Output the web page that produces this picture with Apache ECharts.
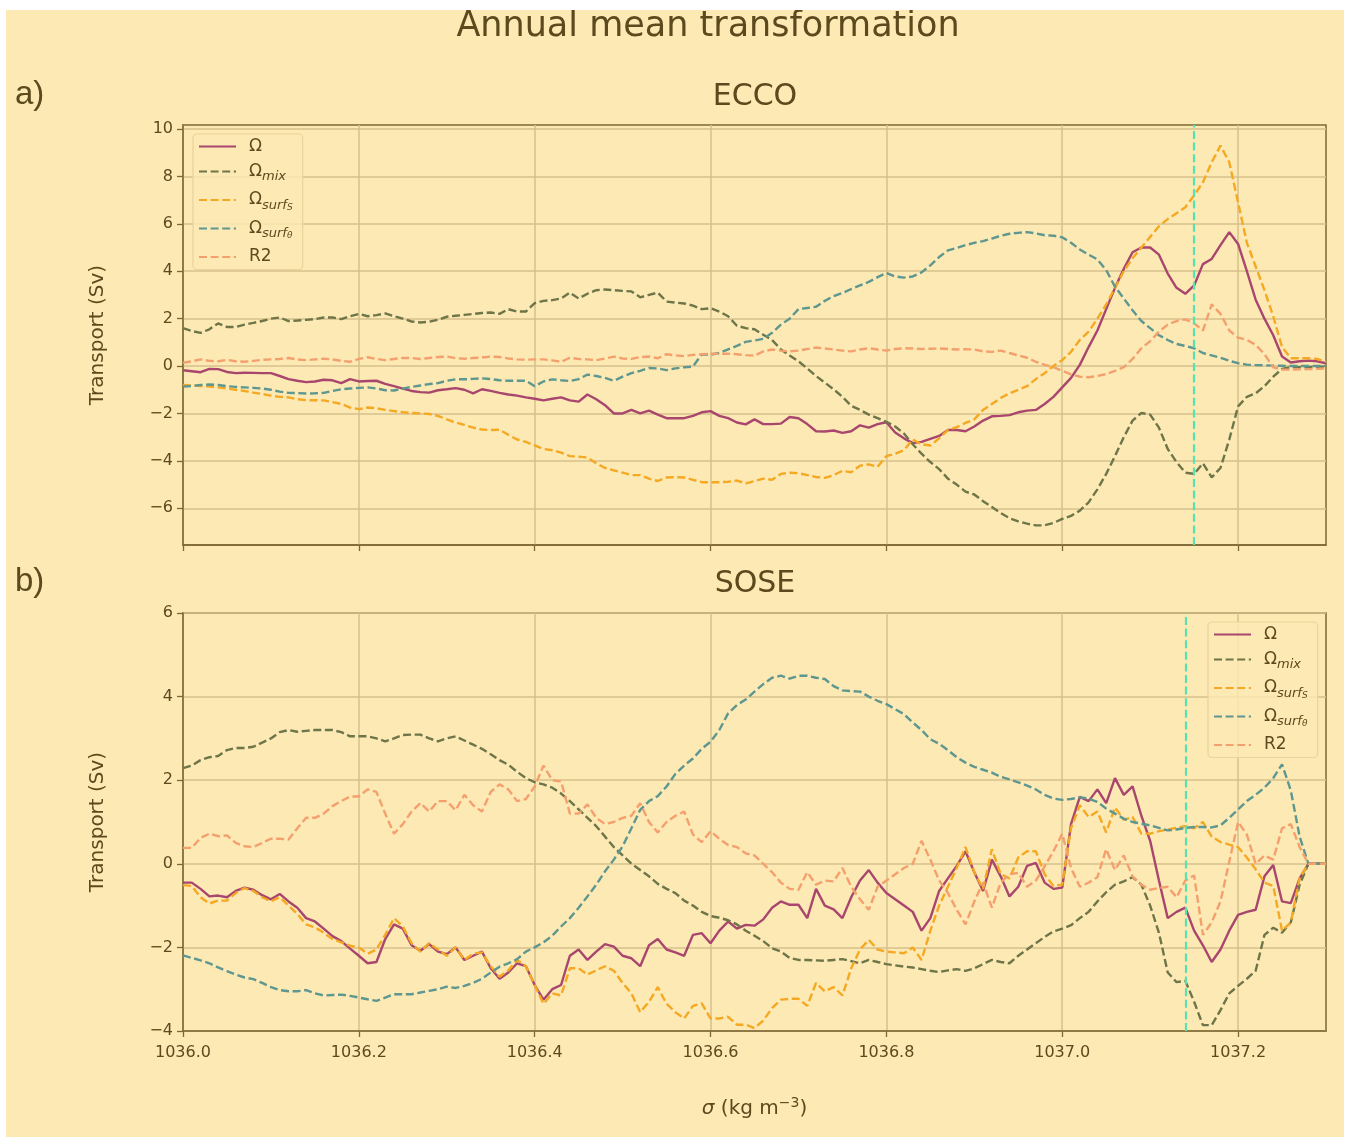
<!DOCTYPE html>
<html>
<head>
<meta charset="utf-8">
<title>Annual mean transformation</title>
<script src="https://cdn.jsdelivr.net/npm/echarts@6/dist/echarts.min.js"></script>
<style>
  html, body { margin: 0; padding: 0; background: #ffffff; }
  #chart {
    position: absolute;
    left: 6px;
    top: 10px;
    width: 1338px;
    height: 1127px;
    background: #fde9b4;
  }
</style>
</head>
<body>
<div id="chart"></div>
<script>
// density grid, 0.01 kg m-3 steps from 1036.00 to 1037.30
const sigma = []
for (let i = 0; i <= 130; i++) sigma.push(+(1036 + i * 0.01).toFixed(2))

const seriesNames = ['Ω', 'Ωmix', 'Ωsurfs', 'Ωsurfθ', 'R2']
const xTicks = [1036.0, 1036.2, 1036.4, 1036.6, 1036.8, 1037.0, 1037.2]
const eccoYTicks = [-6, -4, -2, 0, 2, 4, 6, 8, 10]
const soseYTicks = [-4, -2, 0, 2, 4, 6]

// density of the dashed marker line in each panel
const eccoMarker = 1037.154
const soseMarker = 1037.143

// ECCO (panel a)
const eccoOmega = [
  -0.18, -0.22, -0.26, -0.12, -0.13, -0.25, -0.3, -0.28, -0.29, -0.3,
  -0.3, -0.42, -0.55, -0.62, -0.68, -0.65, -0.58, -0.6, -0.72, -0.55,
  -0.65, -0.63, -0.62, -0.75, -0.85, -0.95, -1.05, -1.1, -1.12, -1.02,
  -0.98, -0.93, -1.0, -1.15, -0.98, -1.05, -1.13, -1.2, -1.25, -1.32,
  -1.38, -1.45, -1.38, -1.32, -1.45, -1.5, -1.2, -1.4, -1.65, -2.0,
  -2.0, -1.85, -2.0, -1.88, -2.05, -2.2, -2.2, -2.2, -2.1, -1.95,
  -1.9, -2.1, -2.2, -2.38, -2.46, -2.25, -2.45, -2.45, -2.43, -2.15,
  -2.2, -2.45, -2.75, -2.76, -2.72, -2.82, -2.75, -2.5, -2.6, -2.45,
  -2.37, -2.8, -3.05, -3.25, -3.2, -3.07, -2.95, -2.7, -2.7, -2.75,
  -2.55, -2.3, -2.12, -2.1, -2.07, -1.95, -1.88, -1.85, -1.6, -1.3,
  -0.9, -0.5, 0.05, 0.8, 1.5, 2.4, 3.3, 4.1, 4.8, 5.0,
  5.0, 4.7, 3.9, 3.3, 3.05, 3.4, 4.3, 4.52, 5.1, 5.65,
  5.15, 4.0, 2.8, 2.0, 1.3, 0.4, 0.15, 0.2, 0.23, 0.2, 0.12
]
const eccoMix = [
  1.6, 1.48, 1.4, 1.55, 1.8, 1.65, 1.65, 1.75, 1.82, 1.9,
  2.0, 2.05, 1.9, 1.92, 1.95, 1.98, 2.05, 2.05, 1.98, 2.1,
  2.2, 2.1, 2.15, 2.22, 2.1, 2.0, 1.88, 1.84, 1.87, 1.95,
  2.08, 2.12, 2.16, 2.2, 2.24, 2.26, 2.2, 2.4, 2.3, 2.3,
  2.65, 2.75, 2.78, 2.85, 3.1, 2.85, 3.05, 3.2, 3.23, 3.2,
  3.17, 3.15, 2.9, 3.0, 3.1, 2.72, 2.68, 2.64, 2.55, 2.4,
  2.44, 2.3, 2.1, 1.7, 1.6, 1.55, 1.32, 1.1, 0.7, 0.45,
  0.2, -0.1, -0.42, -0.7, -0.98, -1.3, -1.68, -1.85, -2.05, -2.2,
  -2.35, -2.55, -2.85, -3.3, -3.7, -4.05, -4.35, -4.75, -5.0, -5.3,
  -5.42, -5.7, -5.95, -6.2, -6.42, -6.55, -6.65, -6.72, -6.72, -6.62,
  -6.45, -6.32, -6.1, -5.75, -5.2, -4.55, -3.8, -3.0, -2.3, -1.98,
  -2.05, -2.6, -3.5, -4.05, -4.5, -4.55, -4.1, -4.7, -4.3, -3.1,
  -1.7, -1.3, -1.15, -0.85, -0.45, -0.12, -0.05, -0.05, -0.05, -0.03, -0.02
]
const eccoSurfS = [
  -0.8, -0.82, -0.84, -0.87, -0.9, -0.95, -1.0, -1.05, -1.12, -1.18,
  -1.25, -1.3, -1.32, -1.4, -1.44, -1.44, -1.45, -1.52, -1.6, -1.75,
  -1.82, -1.75, -1.78, -1.85, -1.9, -1.95, -1.98, -2.0, -2.02, -2.1,
  -2.25, -2.38, -2.48, -2.6, -2.68, -2.7, -2.69, -2.9, -3.1, -3.2,
  -3.35, -3.5, -3.55, -3.65, -3.8, -3.82, -3.86, -4.1, -4.3, -4.4,
  -4.5, -4.6, -4.6, -4.75, -4.85, -4.7, -4.69, -4.7, -4.8, -4.9,
  -4.9, -4.9, -4.88, -4.83, -4.95, -4.85, -4.75, -4.8, -4.55, -4.5,
  -4.52, -4.6, -4.68, -4.72, -4.6, -4.42, -4.48, -4.2, -4.15, -4.25,
  -3.8, -3.7, -3.55, -3.1, -3.3, -3.35, -3.05, -2.7, -2.58, -2.4,
  -2.25, -1.85, -1.6, -1.35, -1.15, -1.0, -0.85, -0.55, -0.3, 0.0,
  0.25, 0.6, 1.1, 1.45, 2.0, 2.6, 3.3, 4.0, 4.55, 5.0,
  5.45, 5.9, 6.2, 6.45, 6.7, 7.2, 7.75, 8.6, 9.3, 8.6,
  6.9, 5.2, 4.2, 3.2, 2.1, 0.8, 0.33, 0.33, 0.33, 0.3, 0.18
]
const eccoSurfT = [
  -0.87, -0.84, -0.8, -0.78, -0.8, -0.85, -0.88, -0.9, -0.92, -0.95,
  -1.0, -1.08, -1.13, -1.14, -1.16, -1.15, -1.13, -1.05, -0.98, -0.95,
  -0.92, -0.9, -0.95, -1.02, -1.03, -0.95, -0.88, -0.82, -0.76, -0.72,
  -0.62, -0.56, -0.56, -0.54, -0.52, -0.55, -0.6, -0.62, -0.62, -0.62,
  -0.85, -0.65, -0.56, -0.6, -0.63, -0.55, -0.36, -0.42, -0.5, -0.62,
  -0.45, -0.3, -0.2, -0.08, -0.1, -0.17, -0.1, -0.05, -0.02, 0.5,
  0.48, 0.55, 0.7, 0.85, 1.02, 1.08, 1.15, 1.4, 1.75, 2.0,
  2.4, 2.45, 2.5, 2.75, 2.95, 3.08, 3.25, 3.4, 3.55, 3.75,
  3.93, 3.78, 3.73, 3.78, 3.95, 4.25, 4.6, 4.88, 4.98, 5.1,
  5.2, 5.27, 5.38, 5.5, 5.58, 5.62, 5.65, 5.6, 5.52, 5.5,
  5.43, 5.2, 4.92, 4.7, 4.5, 4.05, 3.35, 2.85, 2.35, 1.9,
  1.6, 1.3, 1.1, 0.93, 0.85, 0.75, 0.55, 0.45, 0.35, 0.22,
  0.12, 0.06, 0.04, 0.03, 0.02, 0.01, 0.0, 0.0, 0.0, 0.0, 0.0
]
const eccoR2 = [
  0.14, 0.2, 0.28, 0.22, 0.2, 0.26, 0.2, 0.18, 0.22, 0.26,
  0.28, 0.3, 0.34, 0.28, 0.25, 0.28, 0.31, 0.28, 0.22, 0.18,
  0.3, 0.37, 0.3, 0.25, 0.3, 0.34, 0.34, 0.3, 0.34, 0.38,
  0.4, 0.33, 0.31, 0.34, 0.36, 0.4, 0.38, 0.32, 0.28, 0.27,
  0.28, 0.28, 0.24, 0.18, 0.35, 0.3, 0.28, 0.25, 0.32, 0.4,
  0.32, 0.3, 0.38, 0.4, 0.33, 0.5, 0.45, 0.42, 0.47, 0.5,
  0.52, 0.52, 0.52, 0.5, 0.46, 0.44, 0.62, 0.7, 0.65, 0.62,
  0.65, 0.72, 0.78, 0.74, 0.7, 0.65, 0.62, 0.7, 0.75, 0.7,
  0.65, 0.72, 0.75, 0.74, 0.72, 0.73, 0.74, 0.72, 0.7, 0.71,
  0.7, 0.62, 0.6, 0.65, 0.55, 0.45, 0.35, 0.18, 0.05, -0.05,
  -0.2, -0.35, -0.45, -0.47, -0.42, -0.34, -0.2, -0.05, 0.3, 0.75,
  1.05, 1.45, 1.75, 1.9, 1.97, 1.8, 1.5, 2.6, 2.2, 1.5,
  1.2, 1.1, 0.9, 0.5, -0.05, -0.15, -0.15, -0.14, -0.13, -0.12, -0.1
]

// SOSE (panel b)
const soseOmega = [
  -0.45, -0.45, -0.6, -0.78, -0.76, -0.8, -0.65, -0.57, -0.62, -0.75,
  -0.85, -0.72, -0.9, -1.05, -1.3, -1.38, -1.55, -1.73, -1.85, -2.03,
  -2.2, -2.38, -2.35, -1.8, -1.45, -1.55, -1.95, -2.08, -1.92, -2.1,
  -2.16, -2.0, -2.3, -2.2, -2.1, -2.5, -2.75, -2.6, -2.38, -2.45,
  -2.9, -3.25, -3.0, -2.9, -2.2, -2.05, -2.3, -2.1, -1.92, -1.98,
  -2.2, -2.26, -2.45, -1.95, -1.8, -2.05, -2.12, -2.2, -1.7, -1.66,
  -1.9, -1.6, -1.38, -1.55, -1.46, -1.48, -1.33, -1.05, -0.9, -0.98,
  -0.98, -1.3, -0.6, -1.0, -1.09, -1.3, -0.8, -0.4, -0.15, -0.45,
  -0.7, -0.85, -1.0, -1.15, -1.6, -1.3, -0.65, -0.35, -0.05, 0.3,
  -0.2, -0.65, 0.1, -0.3, -0.78, -0.55, -0.05, 0.02, -0.45, -0.6,
  -0.57, 0.95, 1.6, 1.5, 1.78, 1.45, 2.05, 1.65, 1.85, 1.15,
  0.55, -0.4, -1.3, -1.15, -1.05, -1.6, -1.95, -2.35, -2.05, -1.6,
  -1.22, -1.15, -1.1, -0.3, -0.03, -0.9, -0.94, -0.35, 0.0, 0.0, 0.0
]
const soseMix = [
  2.29, 2.35, 2.48, 2.55, 2.58, 2.72, 2.77, 2.77, 2.8, 2.9,
  3.0, 3.15, 3.2, 3.16, 3.18, 3.2, 3.2, 3.2, 3.15, 3.05,
  3.05, 3.05, 3.0, 2.93, 3.0, 3.08, 3.09, 3.09, 3.0, 2.93,
  3.0, 3.05, 2.95, 2.85, 2.75, 2.62, 2.48, 2.37, 2.2, 2.05,
  1.95, 1.9, 1.82, 1.68, 1.5, 1.3, 1.1, 0.9, 0.65, 0.4,
  0.2, 0.0, -0.15, -0.3, -0.48, -0.6, -0.7, -0.88, -1.0, -1.15,
  -1.25, -1.29, -1.35, -1.45, -1.6, -1.72, -1.85, -2.02, -2.1, -2.25,
  -2.3, -2.3, -2.31, -2.32, -2.3, -2.28, -2.33, -2.38, -2.3, -2.35,
  -2.4, -2.43, -2.46, -2.48, -2.52, -2.56, -2.59, -2.55, -2.52, -2.56,
  -2.5, -2.4, -2.3, -2.35, -2.38, -2.2, -2.05, -1.9, -1.75, -1.62,
  -1.55, -1.47, -1.3, -1.15, -0.9, -0.68, -0.5, -0.42, -0.32, -0.5,
  -1.0, -1.65, -2.6, -2.83, -2.8, -3.3, -3.86, -3.86, -3.5, -3.1,
  -2.92, -2.75, -2.56, -1.7, -1.53, -1.65, -1.4, -0.5, 0.0, 0.0, 0.0
]
const soseSurfS = [
  -0.51, -0.53, -0.8, -0.95, -0.88, -0.88, -0.7, -0.58, -0.65, -0.8,
  -0.9, -0.8, -1.0, -1.2, -1.45, -1.52, -1.65, -1.8, -1.88, -1.96,
  -2.0, -2.15, -2.05, -1.7, -1.3, -1.5, -1.9, -2.1, -1.9, -2.05,
  -2.2, -2.0, -2.3, -2.15, -2.12, -2.45, -2.7, -2.55, -2.3, -2.45,
  -2.9, -3.35, -3.1, -3.15, -2.5, -2.5, -2.65, -2.55, -2.45, -2.56,
  -2.85, -3.1, -3.55, -3.3, -2.95, -3.35, -3.55, -3.7, -3.4, -3.34,
  -3.7, -3.7, -3.66, -3.85, -3.85, -3.93, -3.75, -3.45, -3.25, -3.23,
  -3.23, -3.4, -2.85, -3.05, -2.95, -3.15, -2.5, -2.05, -1.82, -2.05,
  -2.1, -2.12, -2.14, -2.0, -2.3, -1.6, -1.0, -0.55, -0.1, 0.4,
  -0.2, -0.6, 0.35, -0.25, -0.35, 0.15, 0.3, 0.3, -0.25, -0.53,
  -0.5, 0.85, 1.4, 1.12, 1.25, 0.75, 1.35, 1.05, 1.12, 0.72,
  0.72, 0.78, 0.82, 0.86, 0.9, 0.85, 1.0, 0.65, 0.52, 0.46,
  0.4, 0.15, -0.13, -0.45, -0.53, -1.6, -1.4, -0.35, 0.0, 0.0, 0.0
]
const soseSurfT = [
  -2.19, -2.25, -2.31, -2.38, -2.48, -2.57, -2.65, -2.72, -2.76, -2.85,
  -2.95, -3.02, -3.05, -3.05, -3.02, -3.1, -3.15, -3.14, -3.13, -3.16,
  -3.2, -3.24, -3.28, -3.2, -3.12, -3.12, -3.12, -3.08, -3.04, -3.0,
  -2.94, -2.97, -2.92, -2.85, -2.75, -2.6, -2.46, -2.38, -2.28, -2.1,
  -2.0, -1.88, -1.72, -1.5, -1.3, -1.05, -0.78, -0.5, -0.18, 0.1,
  0.42, 0.85, 1.29, 1.5, 1.62, 1.85, 2.15, 2.35, 2.52, 2.75,
  2.92, 3.2, 3.6, 3.8, 3.93, 4.12, 4.3, 4.45, 4.5, 4.43,
  4.5, 4.5, 4.45, 4.42, 4.25, 4.15, 4.13, 4.12, 4.0, 3.9,
  3.82, 3.7, 3.58, 3.38, 3.2, 2.98, 2.87, 2.72, 2.55, 2.42,
  2.32, 2.25, 2.18, 2.08, 2.02, 1.95, 1.87, 1.78, 1.65, 1.56,
  1.53, 1.55, 1.59, 1.56, 1.48, 1.32, 1.2, 1.08, 1.0, 0.96,
  0.92, 0.86, 0.8, 0.82, 0.86, 0.88, 0.88, 0.87, 0.92, 1.1,
  1.3, 1.5, 1.65, 1.82, 2.05, 2.38, 1.75, 0.65, 0.0, 0.0, 0.0
]
const soseR2 = [
  0.38, 0.38, 0.62, 0.72, 0.66, 0.68, 0.5, 0.42, 0.4, 0.5,
  0.6, 0.6, 0.58, 0.85, 1.1, 1.1, 1.2, 1.38, 1.5, 1.61,
  1.61, 1.78, 1.72, 1.2, 0.72, 0.95, 1.25, 1.45, 1.25, 1.5,
  1.5, 1.28, 1.65, 1.4, 1.25, 1.72, 1.9, 1.78, 1.5, 1.55,
  1.85, 2.35, 2.0, 1.97, 1.2, 1.2, 1.42, 1.1, 0.95, 1.0,
  1.1, 1.15, 1.45, 1.0, 0.75, 1.0, 1.15, 1.25, 0.7, 0.52,
  0.78, 0.6, 0.45, 0.4, 0.25, 0.2, 0.0, -0.2, -0.45, -0.6,
  -0.62, -0.2, -0.5, -0.4, -0.42, -0.1, -0.55, -0.85, -1.1, -0.55,
  -0.4, -0.25, -0.1, 0.0, 0.55, 0.1, -0.4, -0.7, -1.1, -1.45,
  -0.9, -0.45, -1.05, -0.45, -0.25, -0.22, -0.55, -0.4, -0.06, 0.3,
  0.72, -0.1, -0.55, -0.45, -0.32, 0.35, -0.15, 0.2, -0.3, -0.5,
  -0.62, -0.58, -0.55, -0.8, -0.4, -0.28, -1.7, -1.4, -0.9, 0.05,
  1.0, 0.7, 0.0, 0.2, 0.1, 0.85, 0.95, 0.4, 0.0, 0.0, 0.0
]

const textColor = '#5c4a1e'
const frameColor = '#7d6733'
const gridColor = '#d6bf8b'
const markerColor = '#56e3b3'
const lineColors = ['#a8466d', '#6d7549', '#f5a822', '#5e9690', '#f4a06e']
const dash = [8, 3.6]

const legendRich = {
  m: { fontSize: 17, lineHeight: 24, color: textColor, fontFamily: 'DejaVu Sans' },
  s: { fontSize: 13, lineHeight: 14, verticalAlign: 'bottom', fontStyle: 'italic', color: textColor, fontFamily: 'DejaVu Sans' },
  ss: { fontSize: 9, lineHeight: 10, verticalAlign: 'bottom', fontStyle: 'italic', color: textColor, fontFamily: 'DejaVu Sans' }
}
const legendText = {
  'Ω': '{m|Ω}',
  'Ωmix': '{m|Ω}{s|mix}',
  'Ωsurfs': '{m|Ω}{s|surf}{ss|S}',
  'Ωsurfθ': '{m|Ω}{s|surf}{ss|θ}',
  'R2': '{m|R2}'
}

const minus = v => String(v).replace('-', '−')

function pairs(vals) {
  return vals.map((v, i) => [sigma[i], v])
}

function makeLegend(left, top) {
  return {
    orient: 'vertical',
    left: left,
    top: top,
    data: seriesNames,
    selectedMode: false,
    itemWidth: 37,
    itemHeight: 14,
    itemGap: 8,
    padding: [4, 10, 4, 5],
    backgroundColor: 'rgba(253,233,180,0.8)',
    borderColor: '#ead39c',
    borderWidth: 1.2,
    borderRadius: 4,
    itemStyle: { opacity: 0 },
    formatter: name => legendText[name],
    textStyle: { color: textColor, padding: [0, 0, 0, 8], rich: legendRich }
  }
}

function makeY(gridIndex, min, max, ticks) {
  return {
    type: 'value',
    gridIndex: gridIndex,
    min: min,
    max: max,
    name: 'Transport (Sv)',
    nameLocation: 'middle',
    nameGap: 75,
    nameTextStyle: { color: textColor, fontSize: 20, fontFamily: 'DejaVu Sans' },
    axisLine: { show: true, onZero: false, lineStyle: { color: frameColor, width: 1.5 } },
    axisTick: { show: true, length: 6, customValues: ticks, lineStyle: { color: frameColor, width: 1.3 } },
    axisLabel: {
      customValues: ticks,
      margin: 10,
      color: textColor,
      fontSize: 16,
      fontFamily: 'DejaVu Sans',
      formatter: v => minus(v)
    },
    splitLine: { show: true, lineStyle: { color: gridColor, width: 1.5 } }
  }
}

function makeX(gridIndex, showLabels) {
  return {
    type: 'value',
    gridIndex: gridIndex,
    min: 1036.0,
    max: 1037.3,
    name: showLabels ? '{i|σ}{t| (kg m}{sup|−3}{t|)}' : '',
    nameLocation: 'middle',
    nameGap: 65,
    nameTextStyle: {
      color: textColor,
      rich: {
        i: { fontSize: 20, lineHeight: 26, fontStyle: 'italic', color: textColor, fontFamily: 'DejaVu Sans' },
        t: { fontSize: 20, lineHeight: 26, color: textColor, fontFamily: 'DejaVu Sans' },
        sup: { fontSize: 14, lineHeight: 14, verticalAlign: 'top', color: textColor, fontFamily: 'DejaVu Sans' }
      }
    },
    axisLine: { show: true, onZero: false, lineStyle: { color: frameColor, width: 1.5 } },
    axisTick: { show: true, length: 6, customValues: xTicks, lineStyle: { color: frameColor, width: 1.3 } },
    axisLabel: {
      show: showLabels,
      customValues: xTicks,
      margin: 14,
      color: textColor,
      fontSize: 16,
      fontFamily: 'DejaVu Sans',
      formatter: v => v.toFixed(1)
    },
    splitLine: { show: true, lineStyle: { color: gridColor, width: 1.5 } }
  }
}

function makeSeries(axisIndex, panel, marker) {
  return panel.map((vals, k) => {
    const s = {
      name: seriesNames[k],
      type: 'line',
      xAxisIndex: axisIndex,
      yAxisIndex: axisIndex,
      data: pairs(vals),
      symbol: 'none',
      silent: true,
      lineStyle: { color: lineColors[k], width: 2.4, type: k === 0 ? 'solid' : dash },
      itemStyle: { color: lineColors[k] }
    }
    if (k === 0) {
      s.markLine = {
        silent: true,
        symbol: ['none', 'none'],
        label: { show: false },
        lineStyle: { color: markerColor, width: 2.2, type: dash },
        data: [{ xAxis: marker }]
      }
    }
    return s
  })
}

const chart = echarts.init(document.getElementById('chart'), null, { renderer: 'canvas' })

const option = {
  animation: false,
  backgroundColor: '#fde9b4',
  textStyle: { fontFamily: 'DejaVu Sans' },
  graphic: [
    { type: 'text', x: 702, y: 34, style: { text: 'Annual mean transformation', fill: textColor, font: '35px "DejaVu Sans"', textAlign: 'center', textVerticalAlign: 'bottom' } },
    { type: 'text', x: 749, y: 102, style: { text: 'ECCO', fill: textColor, font: '30px "DejaVu Sans"', textAlign: 'center', textVerticalAlign: 'bottom' } },
    { type: 'text', x: 749, y: 589, style: { text: 'SOSE', fill: textColor, font: '30px "DejaVu Sans"', textAlign: 'center', textVerticalAlign: 'bottom' } },
    { type: 'text', x: 9, y: 85, style: { text: 'a)', fill: textColor, font: '33px "Liberation Sans"', textAlign: 'left', textVerticalAlign: 'middle' } },
    { type: 'text', x: 9, y: 572, style: { text: 'b)', fill: textColor, font: '33px "Liberation Sans"', textAlign: 'left', textVerticalAlign: 'middle' } }
  ],
  legend: [makeLegend(187, 124), makeLegend(1202, 612)],
  grid: [
    { left: 177, top: 115, width: 1143, height: 420, show: true, borderColor: frameColor, borderWidth: 1.5, backgroundColor: 'transparent' },
    { left: 177, top: 603, width: 1143, height: 418, show: true, borderColor: frameColor, borderWidth: 1.5, backgroundColor: 'transparent' }
  ],
  xAxis: [makeX(0, false), makeX(1, true)],
  yAxis: [makeY(0, -7.55, 10.17, eccoYTicks), makeY(1, -4, 6, soseYTicks)],
  series: [].concat(
    makeSeries(0, [eccoOmega, eccoMix, eccoSurfS, eccoSurfT, eccoR2], eccoMarker),
    makeSeries(1, [soseOmega, soseMix, soseSurfS, soseSurfT, soseR2], soseMarker)
  )
}

chart.setOption(option)
</script>
</body>
</html>
